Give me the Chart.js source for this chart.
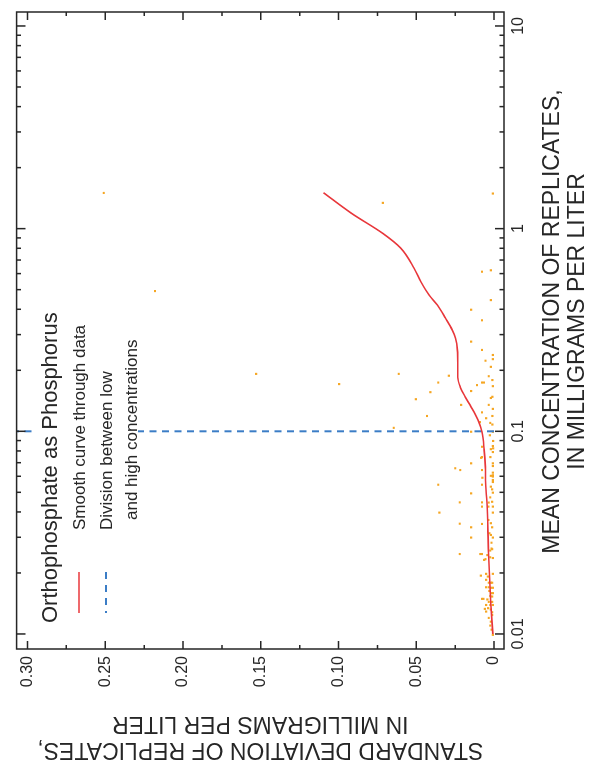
<!DOCTYPE html>
<html><head><meta charset="utf-8">
<script src="https://cdn.jsdelivr.net/npm/chart.js@4/dist/chart.umd.min.js"></script>
<style>
html,body{margin:0;padding:0;background:#fff;overflow:hidden;width:595px;height:767px;}
#wrap{position:absolute;left:0;top:0;width:767px;height:595px;transform-origin:0 0;transform:translateY(767px) rotate(-90deg);}
canvas{display:block;}
</style></head>
<body><div id="wrap"><canvas id="c" width="767" height="595"></canvas></div>
<script>
// ---- data (concentration in mg/L, standard deviation in mg/L) ----
const xTickValues = [0.01, 0.1, 1, 10];
const xTickLabels = ['0.01', '0.1', '1', '10'];
const xMinorValues = [0.02,0.03,0.04,0.05,0.06,0.07,0.08,0.09,0.2,0.3,0.4,0.5,0.6,0.7,0.8,0.9,2,3,4,5,6,7,8,9];
const yTickValues = [0, 0.05, 0.10, 0.15, 0.20, 0.25, 0.30];
const yTickLabels = ['0', '0.05', '0.10', '0.15', '0.20', '0.25', '0.30'];
const yMinorValues = [0.025, 0.075, 0.125, 0.175, 0.225, 0.275];

const curveConc = [0.01,0.0142,0.0251,0.0443,0.0575,0.0644,0.0809,0.0992,0.1137,0.132,0.1476,0.165,0.185,0.217,0.252,0.288,0.316,0.361,0.420,0.470,0.547,0.637,0.80,0.948,1.19,1.504];
const curveStd  = [0.0008,0.0021,0.0036,0.0046,0.0055,0.0055,0.0064,0.0078,0.0104,0.0148,0.0185,0.0217,0.0234,0.0234,0.0236,0.0248,0.0269,0.0312,0.0365,0.0418,0.0471,0.0514,0.0599,0.0716,0.0917,0.1097];

const divisionConc = [0.1, 0.1];
const divisionStd = [0, 0.307];

const pointConc = [1.50,0.492,0.192,0.171,1.34,0.192,0.144,1.49,0.613,0.623,0.444,0.398,0.353,0.277,0.252,0.238,0.227,0.223,0.208,0.188,0.187,0.179,0.174,0.174,0.174,0.169,0.167,0.156,0.158,0.148,0.146,0.135,0.135,0.129,0.124,0.119,0.119,0.116,0.111,0.110,0.108,0.104,0.0995,0.0995,0.0956,0.0896,0.0846,0.0839,0.0824,0.0816,0.0790,0.0740,0.0746,0.0746,0.0695,0.0695,0.0657,0.0644,0.0644,0.0674,0.0607,0.0590,0.0625,0.0603,0.0598,0.0575,0.0562,0.0545,0.0545,0.0533,0.0517,0.0494,0.0498,0.0472,0.0446,0.0446,0.0445,0.0449,0.0425,0.0425,0.0425,0.0397,0.0397,0.0365,0.0350,0.0349,0.0352,0.0336,0.0336,0.0314,0.0308,0.0299,0.0299,0.0282,0.0264,0.0258,0.0262,0.0248,0.0248,0.0248,0.0245,0.0239,0.0237,0.0232,0.0234,0.0198,0.0198,0.0194,0.0192,0.0185,0.0179,0.0179,0.0179,0.0170,0.0170,0.0169,0.0169,0.0163,0.0159,0.0159,0.0154,0.0153,0.0149,0.0149,0.0148,0.0144,0.0144,0.0139,0.0139,0.0139,0.0133,0.0134,0.0132,0.0129,0.0128,0.0120,0.0124,0.0115,0.0110,0.0105,0.0099];
const pointStd  = [0.251,0.218,0.153,0.0996,0.0715,0.0613,0.0503,0.0008,0.0078,0.0021,0.0021,0.0148,0.0078,0.0148,0.0078,0.0008,0.0008,0.0055,0.0021,0.0291,0.0034,0.0011,0.0078,0.0066,0.0359,0.0110,0.0008,0.0410,0.0148,0.0011,0.0021,0.0212,0.0034,0.0008,0.0078,0.0431,0.0011,0.0051,0.0091,0.0025,0.0011,0.0645,0.0148,0.0008,0.0027,0.0006,0.0008,0.0078,0.0006,0.0021,0.0008,0.0083,0.0078,0.0024,0.0148,0.0008,0.0250,0.0218,0.0078,0.0008,0.0008,0.0075,0.0008,0.0021,0.0008,0.0008,0.0008,0.0359,0.0078,0.0021,0.0013,0.0148,0.0008,0.0025,0.0221,0.0078,0.0034,0.0013,0.0078,0.0036,0.0008,0.0352,0.0008,0.0036,0.0221,0.0078,0.0021,0.0013,0.0148,0.0030,0.0021,0.0148,0.0008,0.0017,0.0017,0.0025,0.0013,0.0221,0.0089,0.0078,0.0043,0.0025,0.0008,0.0064,0.0055,0.0008,0.0051,0.0085,0.0040,0.0051,0.0034,0.0021,0.0013,0.0051,0.0034,0.0019,0.0008,0.0030,0.0017,0.0008,0.0025,0.0013,0.0078,0.0068,0.0043,0.0034,0.0013,0.0051,0.0025,0.0008,0.0059,0.0038,0.0021,0.0051,0.0013,0.0034,0.0013,0.0021,0.0025,0.0017,0.0008];

const xTitle = ['MEAN CONCENTRATION OF REPLICATES,', 'IN MILLIGRAMS PER LITER'];
const yTitle = ['STANDARD DEVIATION OF REPLICATES,', 'IN MILLIGRAMS PER LITER'];
const legendTitle = 'Orthophosphate as Phosphorus';
const legendCurve = 'Smooth curve through data';
const legendDivision = ['Division between low', 'and high concentrations'];

// ---- styles ----
const FONT = '"Liberation Sans", Arial, Helvetica, sans-serif';
const INK = '#262626';
const RED = '#e8373b';
const BLUE = '#3b7dc6';
const ORANGE = '#f5a623';

Chart.defaults.font.family = FONT;
Chart.defaults.font.size = 16;
Chart.defaults.color = INK;

const pairs = (xs, ys) => xs.map((x, i) => ({x: x, y: ys[i]}));

const framePlugin = {
  id: 'frameTicks',
  afterDatasetsDraw(chart) {
    const ctx = chart.ctx, ca = chart.chartArea;
    const xs = chart.scales.x, ys = chart.scales.y;
    ctx.save();
    // legend box
    ctx.fillStyle = '#fff';
    ctx.fillRect(140, 36, 330, 102);
    ctx.strokeStyle = INK;
    ctx.lineWidth = 1.5;
    ctx.strokeRect(ca.left, ca.top, ca.right - ca.left, ca.bottom - ca.top);
    ctx.beginPath();
    const tx = (v, len) => { const p = xs.getPixelForValue(v);
      ctx.moveTo(p, ca.bottom); ctx.lineTo(p, ca.bottom - len);
      ctx.moveTo(p, ca.top); ctx.lineTo(p, ca.top + len); };
    const ty = (v, len) => { const p = ys.getPixelForValue(v);
      ctx.moveTo(ca.left, p); ctx.lineTo(ca.left + len, p);
      ctx.moveTo(ca.right, p); ctx.lineTo(ca.right - len, p); };
    xTickValues.forEach(v => tx(v, 9));
    xMinorValues.forEach(v => tx(v, 4.5));
    yTickValues.forEach(v => ty(v, 8));
    yMinorValues.forEach(v => ty(v, 4));
    ctx.stroke();
    // x-axis title
    ctx.fillStyle = INK;
    ctx.textAlign = 'center';
    ctx.textBaseline = 'middle';
    ctx.font = '23px ' + FONT;
    const cx = (ca.left + ca.right) / 2 + 9;
    ctx.fillText(xTitle[0], cx, 553);
    ctx.fillText(xTitle[1], cx, 578);
    // legend
    ctx.textBaseline = 'alphabetic';
    ctx.textAlign = 'left';
    ctx.font = '22px ' + FONT;
    ctx.fillText(legendTitle, 144, 57);
    ctx.font = '17px ' + FONT;
    ctx.fillText(legendCurve, 237, 85);
    ctx.fillText(legendDivision[0], 237, 111.5);
    ctx.fillText(legendDivision[1], 247, 137);
    ctx.lineWidth = 1.5;
    ctx.strokeStyle = RED;
    ctx.beginPath(); ctx.moveTo(154, 79); ctx.lineTo(195, 79); ctx.stroke();
    ctx.strokeStyle = BLUE;
    ctx.lineWidth = 2;
    ctx.setLineDash([7, 6]);
    ctx.beginPath(); ctx.moveTo(195, 106); ctx.lineTo(154, 106); ctx.stroke();
    ctx.restore();
  }
};

new Chart(document.getElementById('c'), {
  type: 'scatter',
  data: {
    datasets: [
      { label: 'Replicates', data: pairs(pointConc, pointStd), pointStyle: 'rect', pointRadius: 1.5,
        pointBackgroundColor: ORANGE, pointBorderWidth: 0, showLine: false, order: 3 },
      { label: legendCurve, type: 'line', data: pairs(curveConc, curveStd), borderColor: RED, borderWidth: 1.6,
        pointRadius: 0, fill: false, cubicInterpolationMode: 'monotone', order: 1 },
      { label: legendDivision.join(' '), type: 'line', data: pairs(divisionConc, divisionStd), borderColor: BLUE,
        borderWidth: 2, borderDash: [7, 5.5], pointRadius: 0, fill: false, order: 2 }
    ]
  },
  options: {
    responsive: false, animation: false, devicePixelRatio: 1,
    layout: { padding: { top: 12, right: 12, left: 0, bottom: 0 } },
    plugins: { legend: { display: false }, tooltip: { enabled: false } },
    scales: {
      x: {
        type: 'logarithmic', min: 0.00843, max: 11.72,
        grid: { display: false, drawTicks: false }, border: { display: false },
        afterBuildTicks: s => { s.ticks = xTickValues.map(v => ({ value: v })); },
        afterFit: s => { s.height = 91; },
        ticks: { autoSkip: false, maxRotation: 0, padding: 5, color: INK, font: { size: 16, family: FONT },
                 callback: (v, i) => xTickLabels[i] },
        title: { display: false }
      },
      y: {
        type: 'linear', min: -0.00637, max: 0.307,
        grid: { display: false, drawTicks: false }, border: { display: false },
        afterBuildTicks: s => { s.ticks = yTickValues.map(v => ({ value: v })); },
        afterFit: s => { s.width = 118; },
        ticks: { autoSkip: false, padding: 7, color: INK, font: { size: 16, family: FONT },
                 callback: (v, i) => yTickLabels[i] },
        title: { display: true, text: yTitle,
                 color: INK, font: { size: 23, family: FONT, lineHeight: 1.15 }, padding: { top: 4, bottom: 0 } }
      }
    }
  },
  plugins: [framePlugin]
});
</script>
</body></html>
